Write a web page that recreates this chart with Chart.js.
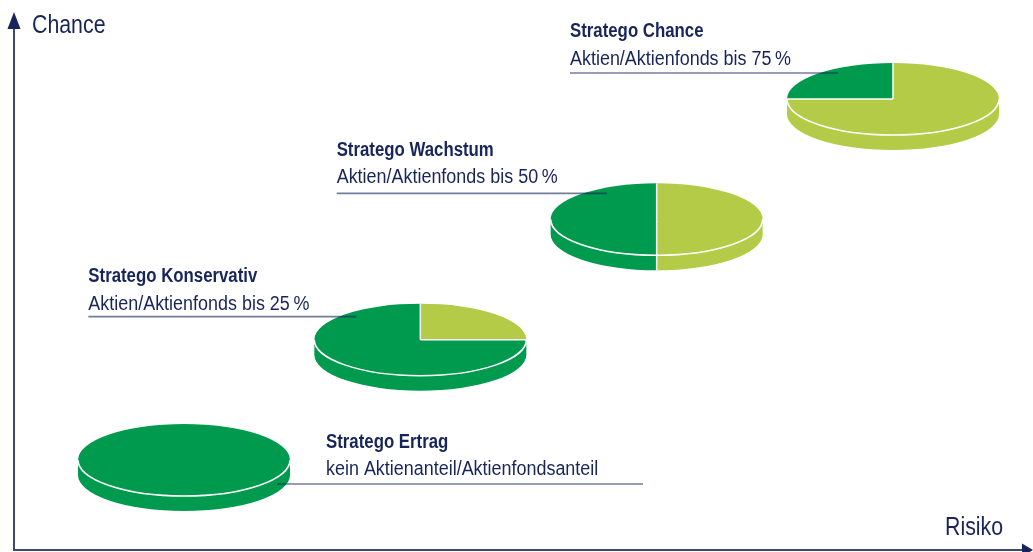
<!DOCTYPE html>
<html>
<head>
<meta charset="utf-8">
<script src="https://cdn.jsdelivr.net/npm/chart.js@4/dist/chart.umd.min.js"></script>
<style>
  html, body { margin: 0; padding: 0; background: #fff; }
  #wrap { width: 1033px; height: 552px; }
</style>
</head>
<body>
<div id="wrap"><canvas id="chart" width="1033" height="552"></canvas></div>
<script>
// fund profiles, from low to high risk
const funds = ['Stratego Ertrag', 'Stratego Konservativ', 'Stratego Wachstum', 'Stratego Chance'];
const notes = [
  'kein Aktienanteil/Aktienfondsanteil',
  'Aktien/Aktienfonds bis 25\u2009%',
  'Aktien/Aktienfonds bis 50\u2009%',
  'Aktien/Aktienfonds bis 75\u2009%'
];
const equityShare = [0, 25, 50, 75];   // % Aktien (light green slice)
const riskLevel = [1, 2, 3, 4];
const chanceLevel = [1, 2, 3, 4];
const axisTitles = { x: 'Risiko', y: 'Chance' };

const DARK = '#009a4f';
const LIGHT = '#b3cb46';
const NAVY = '#17255a';
const FONT = '"Liberation Sans", Arial, sans-serif';

// pie shape in pixels
const RX = 106, RY = 36, DEPTH = 15;

// label placement relative to each pie centre (pixels)
const labelLayout = [
  { tx: 142, title: -12, note: 15, line: 24, l0: 93, l1: 459 },
  { tx: -332, title: -58, note: -30, line: -23, l0: -332, l1: -64 },
  { tx: -320, title: -63, note: -36, line: -26, l0: -320, l1: -50 },
  { tx: -323, title: -62, note: -34, line: -26, l0: -323, l1: -55 }
];

// condensed look: squeeze the glyphs horizontally
function narrowText(ctx, str, x, y, font, sx) {
  ctx.save();
  ctx.translate(x, y);
  ctx.scale(sx, 1);
  ctx.font = font;
  ctx.fillText(str, 0, 0);
  ctx.restore();
}

function drawPie(ctx, cx, cy, share) {
  const slices = [
    { v: share, color: LIGHT },
    { v: 100 - share, color: DARK }
  ].filter(s => s.v > 0);
  let a = -Math.PI / 2;
  const segs = slices.map(s => {
    const a0 = a;
    a += s.v / 100 * Math.PI * 2;
    return { a0, a1: a, color: s.color };
  });

  // side wall (front half only)
  segs.forEach(s => {
    const f0 = Math.max(s.a0, 0), f1 = Math.min(s.a1, Math.PI);
    if (f1 <= f0) return;
    ctx.beginPath();
    ctx.ellipse(cx, cy, RX, RY, 0, f0, f1);
    ctx.ellipse(cx, cy + DEPTH, RX, RY, 0, f1, f0, true);
    ctx.closePath();
    ctx.fillStyle = s.color;
    ctx.fill();
  });

  // top face
  segs.forEach(s => {
    ctx.beginPath();
    ctx.moveTo(cx, cy);
    ctx.ellipse(cx, cy, RX, RY, 0, s.a0, s.a1);
    ctx.closePath();
    ctx.fillStyle = s.color;
    ctx.fill();
  });

  ctx.strokeStyle = '#ffffff';
  ctx.lineWidth = 1.5;
  if (segs.length > 1) {
    segs.forEach(s => {
      const px = cx + RX * Math.cos(s.a0), py = cy + RY * Math.sin(s.a0);
      ctx.beginPath();
      ctx.moveTo(cx, cy);
      ctx.lineTo(px, py);
      ctx.stroke();
      const b = s.a0 < 0 ? s.a0 + Math.PI * 2 : s.a0;
      if (b > 0.01 && b < Math.PI - 0.01) {
        ctx.beginPath();
        ctx.moveTo(px, py);
        ctx.lineTo(px, py + DEPTH);
        ctx.stroke();
      }
    });
  }
  ctx.beginPath();
  ctx.ellipse(cx, cy, RX, RY, 0, 0, Math.PI);
  ctx.stroke();
}

const piePlugin = {
  id: 'pies3d',
  afterDatasetsDraw(chart) {
    const ctx = chart.ctx;
    const meta = chart.getDatasetMeta(0);
    ctx.save();
    meta.data.forEach((pt, i) => drawPie(ctx, pt.x, pt.y, equityShare[i]));

    meta.data.forEach((pt, i) => {
      const L = labelLayout[i];
      // leader line
      ctx.strokeStyle = 'rgba(23,37,90,0.6)';
      ctx.lineWidth = 1.6;
      ctx.beginPath();
      ctx.moveTo(pt.x + L.l0, pt.y + L.line);
      ctx.lineTo(pt.x + L.l1, pt.y + L.line);
      ctx.stroke();

      ctx.fillStyle = NAVY;
      ctx.textAlign = 'left';
      ctx.textBaseline = 'alphabetic';
      narrowText(ctx, funds[i], pt.x + L.tx, pt.y + L.title, 'bold 20px ' + FONT, 0.84);
      narrowText(ctx, notes[i], pt.x + L.tx, pt.y + L.note, '19.5px ' + FONT, 0.92);
    });
    ctx.restore();
  }
};

const axesPlugin = {
  id: 'arrowAxes',
  beforeDatasetsDraw(chart) {
    const ctx = chart.ctx;
    const { left, right, top, bottom } = chart.chartArea;
    const ox = left + 14, oy = bottom - 2;
    ctx.save();
    ctx.strokeStyle = '#3b4874';
    ctx.lineWidth = 2;
    ctx.beginPath();
    ctx.moveTo(ox, oy + 1);
    ctx.lineTo(ox, top + 26);
    ctx.moveTo(ox - 1, oy);
    ctx.lineTo(right - 9, oy);
    ctx.stroke();

    ctx.fillStyle = NAVY;
    ctx.beginPath();
    ctx.moveTo(ox, top + 12);
    ctx.lineTo(ox - 6.5, top + 29);
    ctx.lineTo(ox + 6.5, top + 29);
    ctx.closePath();
    ctx.fill();
    ctx.beginPath();
    ctx.moveTo(right, oy);
    ctx.lineTo(right - 11, oy - 6.5);
    ctx.lineTo(right - 11, oy + 6.5);
    ctx.closePath();
    ctx.fill();

    ctx.textBaseline = 'alphabetic';
    ctx.textAlign = 'left';
    narrowText(ctx, axisTitles.y, left + 32, top + 33, '26px ' + FONT, 0.82);
    narrowText(ctx, axisTitles.x, right - 88, bottom - 17, '26px ' + FONT, 0.82);
    ctx.restore();
  }
};

const canvas = document.getElementById('chart');
new Chart(canvas.getContext('2d'), {
  type: 'scatter',
  data: {
    datasets: [{
      data: riskLevel.map((r, i) => ({ x: r, y: chanceLevel[i] })),
      pointRadius: 0,
      pointHoverRadius: 0
    }]
  },
  options: {
    responsive: false,
    animation: false,
    layout: { padding: 0 },
    scales: {
      x: { type: 'linear', display: false, min: 0.2214, max: 4.5924 },
      y: { type: 'linear', display: false, min: 0.2354, max: 4.8227 }
    },
    plugins: {
      legend: { display: false },
      tooltip: { enabled: false }
    }
  },
  plugins: [axesPlugin, piePlugin]
});
</script>
</body>
</html>
